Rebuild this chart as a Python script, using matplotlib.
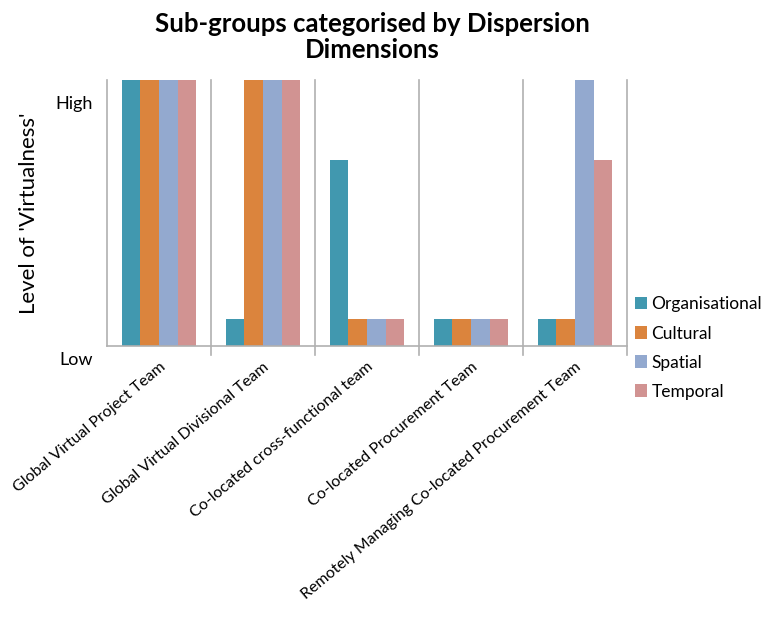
import matplotlib.pyplot as plt
import matplotlib.transforms as mtransforms
import numpy as np

plt.rcParams['font.family'] = ['Lato', 'DejaVu Sans']

teams = ["Global Virtual Project Team", "Global Virtual Divisional Team",
         "Co-located cross-functional team", "Co-located Procurement Team",
         "Remotely Managing Co-located Procurement Team"]
organisational = [1.0, 0.1, 0.7, 0.1, 0.1]
cultural = [1.0, 1.0, 0.1, 0.1, 0.1]
spatial = [1.0, 1.0, 0.1, 0.1, 1.0]
temporal = [1.0, 1.0, 0.1, 0.1, 0.7]
series_names = ["Organisational", "Cultural", "Spatial", "Temporal"]
colors = ["#4198AF", "#DB843D", "#93A9CF", "#D19392"]

fig = plt.figure(figsize=(7.67, 6.2), dpi=100)
ax = fig.add_axes([0.1395, 0.4419, 0.678, 0.429])

x = np.arange(len(teams))
w = 0.18
for i, (vals, name, c) in enumerate(zip([organisational, cultural, spatial, temporal],
                                       series_names, colors)):
    ax.bar(x + (i - 1.5) * w, vals, w, color=c, label=name)

ax.set_xlim(-0.5, len(teams) - 0.5)
ax.set_ylim(0, 1)

# group separators
for b in np.arange(len(teams)) + 0.5:
    ax.axvline(b, ymin=-0.035, ymax=1, color="#b0b0b0", lw=1.2, clip_on=False, zorder=0)

for s in ["top", "right"]:
    ax.spines[s].set_visible(False)
ax.spines["left"].set_color("#b0b0b0")
ax.spines["bottom"].set_color("#b0b0b0")
ax.spines["left"].set_linewidth(1.2)
ax.spines["bottom"].set_linewidth(1.2)

ax.set_yticks([0, 0.914])
ax.set_yticklabels(["Low", "High"], fontsize=13)
ax.tick_params(axis="y", length=0, pad=10)
# "Low" sits just under the baseline
low = ax.get_yticklabels()[0]
low.set_va("top")
low.set_transform(low.get_transform() +
                  mtransforms.ScaledTranslation(0, -4 / 72, fig.dpi_scale_trans))

ax.set_xticks(x)
ax.set_xticklabels(teams, rotation=40, ha="right", rotation_mode="anchor", fontsize=11.5)
ax.tick_params(axis="x", length=0, pad=10)

ax.set_ylabel("Level of 'Virtualness'", fontsize=16, labelpad=12)

fig.suptitle("Sub-groups categorised by Dispersion\nDimensions", fontsize=18.5,
             fontweight="bold", x=0.485, y=0.98, linespacing=1.1)

ax.legend(loc="upper left", bbox_to_anchor=(0.985, 0.245), frameon=False, fontsize=12.5,
          handlelength=0.7, handleheight=0.7, handletextpad=0.25, labelspacing=0.75)

plt.savefig("out.png", dpi=100)
